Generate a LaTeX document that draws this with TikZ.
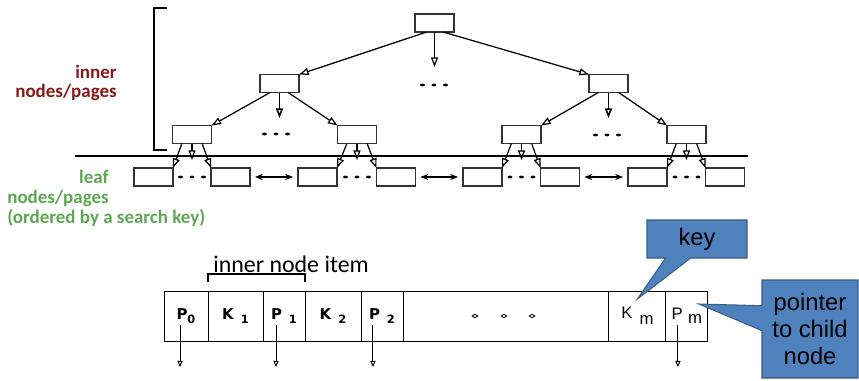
\documentclass[tikz,border=0pt]{standalone}
\usepackage{fontspec}
\setmainfont{Carlito}
\newfontfamily\cellfont{DejaVu Sans}
\newfontfamily\callfont{Liberation Sans}
\usetikzlibrary{arrows.meta,positioning,calc,shapes.callouts}

\definecolor{innerred}{RGB}{140,24,24}
\definecolor{leafgreen}{RGB}{92,168,82}
\definecolor{callblue}{RGB}{79,129,189}
\definecolor{callborder}{RGB}{56,93,138}

% three small dots, centred at (#1,#2)
\newcommand\dotrow[2]{\foreach \dx in {-11.5,0,11.5}{\fill ({#1+\dx},#2) ellipse (1.4pt and 0.8pt);}}
% lowered index in a record cell
\newcommand\lowidx[1]{\raisebox{-2.2pt}{\fontsize{6.5}{6.5}\selectfont #1}}

\tikzset{
  page/.style={draw=black!80, line width=0.6pt, minimum width=0.78cm, minimum height=0.36cm,
               inner sep=0pt, outer sep=0pt},
  down/.style={-{Triangle[open,length=5.5pt,width=4pt]}, line width=0.7pt},
  sibling/.style={{Stealth[length=4.5pt,width=3.5pt]}-{Stealth[length=4.5pt,width=3.5pt]}, line width=0.7pt,
               shorten <=2.8pt, shorten >=2.8pt},
  cell/.style={draw, line width=0.5pt, minimum height=1cm, inner sep=0pt, outer sep=0pt,
               font=\cellfont\bfseries\fontsize{8.5}{8.5}\selectfont},
  ptr/.style={-{Triangle[open,length=3.5pt,width=3pt]}, line width=0.55pt},
  callbox/.style={rectangle callout, fill=callblue, draw=callborder, line width=0.6pt,
               inner sep=0pt, align=center, callout pointer width=0.5cm,
               font=\callfont\fontsize{13.5}{15.5}\selectfont}
}

\begin{document}
\begin{tikzpicture}[x=0.02cm,y=-0.02cm]
  \useasboundingbox (0,0) rectangle (859,380);

% labels at left
  \draw[line width=0.7pt] (167,8) -- (154,8) -- (154,150) -- (167,150);
  \node[anchor=north east, align=right, inner sep=0pt, text=innerred,
        font=\bfseries\fontsize{10.8}{10.5}\selectfont] (innerlbl) at (117,65) {inner\\nodes/pages};
  \node[anchor=north east, align=right, inner sep=0pt, text=leafgreen,
        font=\bfseries\fontsize{10.8}{11.5}\selectfont] (leaflbl) at (109,170) {leaf\\nodes/pages};
  \node[anchor=north west, inner sep=0pt, text=leafgreen,
        font=\bfseries\fontsize{10.8}{11.5}\selectfont] (orderlbl) at (7,209) {(ordered by a search key)};
  \draw[line width=1pt] (75,155.7) -- (748,155.7);

% inner pages
  \node[page] (root) at (434.5,23) {};
  \node[page] (l2a) at (279.5,83.5) {};
  \node[page] (l2b) at (608.5,83.5) {};
  \node[page] (l3a) at (192,134.5) {};
  \node[page] (l3b) at (357,134.5) {};
  \node[page] (l3c) at (521.5,134.5) {};
  \node[page] (l3d) at (686.5,134.5) {};

% leaf pages
  \node[page] (lf1) at (153.5,177) {};
  \node[page] (lf2) at (230.5,177) {};
  \node[page] (lf3) at (317.5,177) {};
  \node[page] (lf4) at (396,177) {};
  \node[page] (lf5) at (482.5,177) {};
  \node[page] (lf6) at (560,177) {};
  \node[page] (lf7) at (647.5,177) {};
  \node[page] (lf8) at (725,177) {};

% open ends of the middle pointers
  \coordinate (rootgap) at (434.5,67);
  \coordinate (l2agap) at (279.5,118);
  \coordinate (l2bgap) at (608.5,118);
  \coordinate (l3agap) at (192,160);
  \coordinate (l3bgap) at (357,160);
  \coordinate (l3cgap) at (521.5,160);
  \coordinate (l3dgap) at (686.5,160);

% child pointers
  \draw[down] ($(root.south west)!.3!(root.south east)$) -- (l2a.north east);
  \draw[down] (root.south) -- (rootgap);
  \draw[down] ($(root.south west)!.72!(root.south east)$) -- (l2b.north west);

  \draw[down] ($(l2a.south west)!.26!(l2a.south east)$) -- (l3a.north east);
  \draw[down,line width=0.9pt] (l2a.south) -- (l2agap);
  \draw[down] ($(l2a.south west)!.72!(l2a.south east)$) -- (l3b.north west);
  \draw[down] ($(l2b.south west)!.24!(l2b.south east)$) -- (l3c.north east);
  \draw[down,line width=0.9pt] (l2b.south) -- (l2bgap);
  \draw[down] ($(l2b.south west)!.76!(l2b.south east)$) -- (l3d.north west);

  \draw[down] ($(l3a.south west)!.24!(l3a.south east)$) -- (lf1.north east);
  \draw[down] (l3a.south) -- (l3agap);
  \draw[down] ($(l3a.south west)!.76!(l3a.south east)$) -- (lf2.north west);
  \draw[down] ($(l3b.south west)!.24!(l3b.south east)$) -- (lf3.north east);
  \draw[down] (l3b.south) -- (l3bgap);
  \draw[down] ($(l3b.south west)!.76!(l3b.south east)$) -- (lf4.north west);
  \draw[down] ($(l3c.south west)!.24!(l3c.south east)$) -- (lf5.north east);
  \draw[down] (l3c.south) -- (l3cgap);
  \draw[down] ($(l3c.south west)!.76!(l3c.south east)$) -- (lf6.north west);
  \draw[down] ($(l3d.south west)!.24!(l3d.south east)$) -- (lf7.north east);
  \draw[down] (l3d.south) -- (l3dgap);
  \draw[down] ($(l3d.south west)!.76!(l3d.south east)$) -- (lf8.north west);

% sibling links between leaves
  \draw[sibling] (lf2.east) -- (lf3.west);
  \draw[sibling] (lf4.east) -- (lf5.west);
  \draw[sibling] (lf6.east) -- (lf7.west);

% elided pages
  \dotrow{434}{85}
  \dotrow{276}{134}
  \dotrow{607}{135}
  \dotrow{192}{177}
  \dotrow{357}{177}
  \dotrow{521.5}{177}
  \dotrow{686.5}{177}

% one inner page, cell by cell
  \node[cell, minimum width=0.88cm, anchor=west] (p0) at (164,316) {P\lowidx{0}};
  \node[cell, minimum width=1.10cm, right=0pt of p0] (k1) {K\hspace{4pt}\lowidx{1}};
  \node[cell, minimum width=0.84cm, right=0pt of k1] (p1) {P\hspace{4pt}\lowidx{1}};
  \node[cell, minimum width=1.12cm, right=0pt of p1] (k2) {K\hspace{4pt}\lowidx{2}};
  \node[cell, minimum width=0.84cm, right=0pt of k2] (p2) {P\hspace{4pt}\lowidx{2}};
  \node[cell, minimum width=4.12cm, right=0pt of p2] (gap) {};
  \node[cell, minimum width=1.14cm, right=0pt of gap, font=\callfont\fontsize{9.5}{9.5}\selectfont]
       (km) {K\hspace{4pt}\raisebox{-3.5pt}{m}};
  \node[cell, minimum width=0.84cm, right=0pt of km, font=\callfont\fontsize{9.5}{9.5}\selectfont]
       (pm) {P\hspace{3pt}\raisebox{-2.5pt}{m}};
  \foreach \x in {475,504,532}
    \draw[line width=0.45pt] (\x-2.8,316) -- (\x,314.3) -- (\x+2.8,316) -- (\x,317.7) -- cycle;

% pointers leaving the page
  \coordinate (p0out) at ($(p0.south west)+(16,26)$);
  \coordinate (p1out) at ($(p1.south west)+(13,26)$);
  \coordinate (p2out) at ($(p2.south west)+(12,26)$);
  \coordinate (pmout) at ($(pm.south west)+(12,26)$);
  \draw[ptr] ($(p0.south west)+(16,-16)$) -- (p0out);
  \draw[ptr] ($(p1.south west)+(13,-16)$) -- (p1out);
  \draw[ptr] ($(p2.south west)+(12,-16)$) -- (p2out);
  \draw[ptr] ($(pm.south west)+(12,-16)$) -- (pmout);

% one item = key plus pointer
  \draw[line width=0.6pt] ($(k1.north west)+(0,-9)$) -- ($(k1.north west)+(0,-17)$)
        -- ($(p1.north east)+(0,-17)$) -- ($(p1.north east)+(0,-9)$);
  \node[anchor=base west, inner sep=0pt, font=\fontsize{13.6}{13.6}\selectfont] (itemlbl) at (213,272) {inner node item};

% callouts
  \coordinate (keytip) at ($(km.north)+(0,8)$);
  \coordinate (ptrtip) at ($(pm.north east)+(-9,13)$);
  \node[callbox, minimum width=2cm, minimum height=0.76cm, callout absolute pointer={(keytip)}]
       (keycall) at (697,239) {key};
  \node[callbox, minimum width=1.92cm, minimum height=1.96cm, callout absolute pointer={(ptrtip)}]
       (ptrcall) at (810,329) {pointer\\to child\\node};

\end{tikzpicture}
\end{document}
